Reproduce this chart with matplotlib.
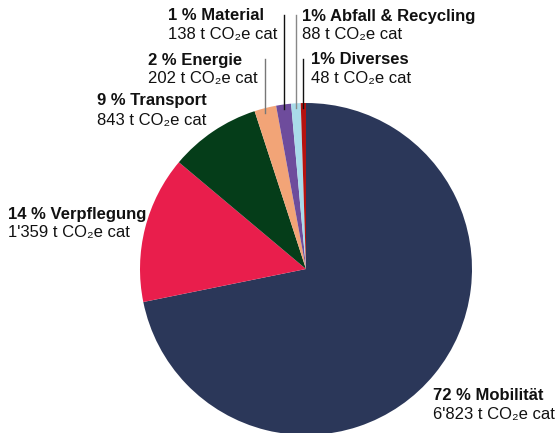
import numpy as np
import matplotlib
matplotlib.use("Agg")
import matplotlib.pyplot as plt

plt.rcParams['font.family'] = ['Liberation Sans', 'DejaVu Sans']

# data
categories = ["Mobilität", "Verpflegung", "Transport", "Energie", "Material",
              "Abfall & Recycling", "Diverses"]
values = [6823, 1359, 843, 202, 138, 88, 48]
percent_labels = ["72 %", "14 %", "9 %", "2 %", "1 %", "1%", "1%"]
value_labels = ["6'823", "1'359", "843", "202", "138", "88", "48"]
colors = ["#2b3759", "#e91e4c", "#053d19", "#f2a477", "#6e4c9c", "#a9dbe9", "#b5120f"]

W, H = 560, 433
fig = plt.figure(figsize=(W / 100, H / 100), dpi=100)
ax = fig.add_axes([0, 0, 1, 1])

cx, cy, r = 306, 269, 166
wedges, _ = ax.pie(values, colors=colors, startangle=90, counterclock=False,
                   center=(cx, H - cy), radius=r, frame=True)
ax.set_xlim(0, W)
ax.set_ylim(0, H)
ax.set_aspect('equal')
ax.axis('off')

# label positions (left x, first line centre y in pixels from top) and leader top
label_pos = [(433, 395, None), (8, 214, None), (97, 101, None), (148, 60, 59),
             (168, 16, 15), (302, 16, 15), (311, 60, 59)]
line_colors = [None, None, None, "#777777", "#111111", "#888888", "#111111"]

for i, w in enumerate(wedges):
    x, y, top = label_pos[i]
    ax.text(x, H - y, percent_labels[i] + " " + categories[i], fontsize=12,
            fontweight='bold', ha='left', va='center', color="#111111")
    ax.text(x, H - y - 19, value_labels[i] + " t CO₂e cat", fontsize=12,
            ha='left', va='center', color="#111111")
    if top is not None:
        ang = np.deg2rad((w.theta1 + w.theta2) / 2)
        lx = cx + r * np.cos(ang)
        ly = (H - cy) + r * 0.97 * np.sin(ang)
        ax.plot([lx, lx], [ly, H - top], color=line_colors[i], lw=1)

fig.savefig("out.png", dpi=100)
